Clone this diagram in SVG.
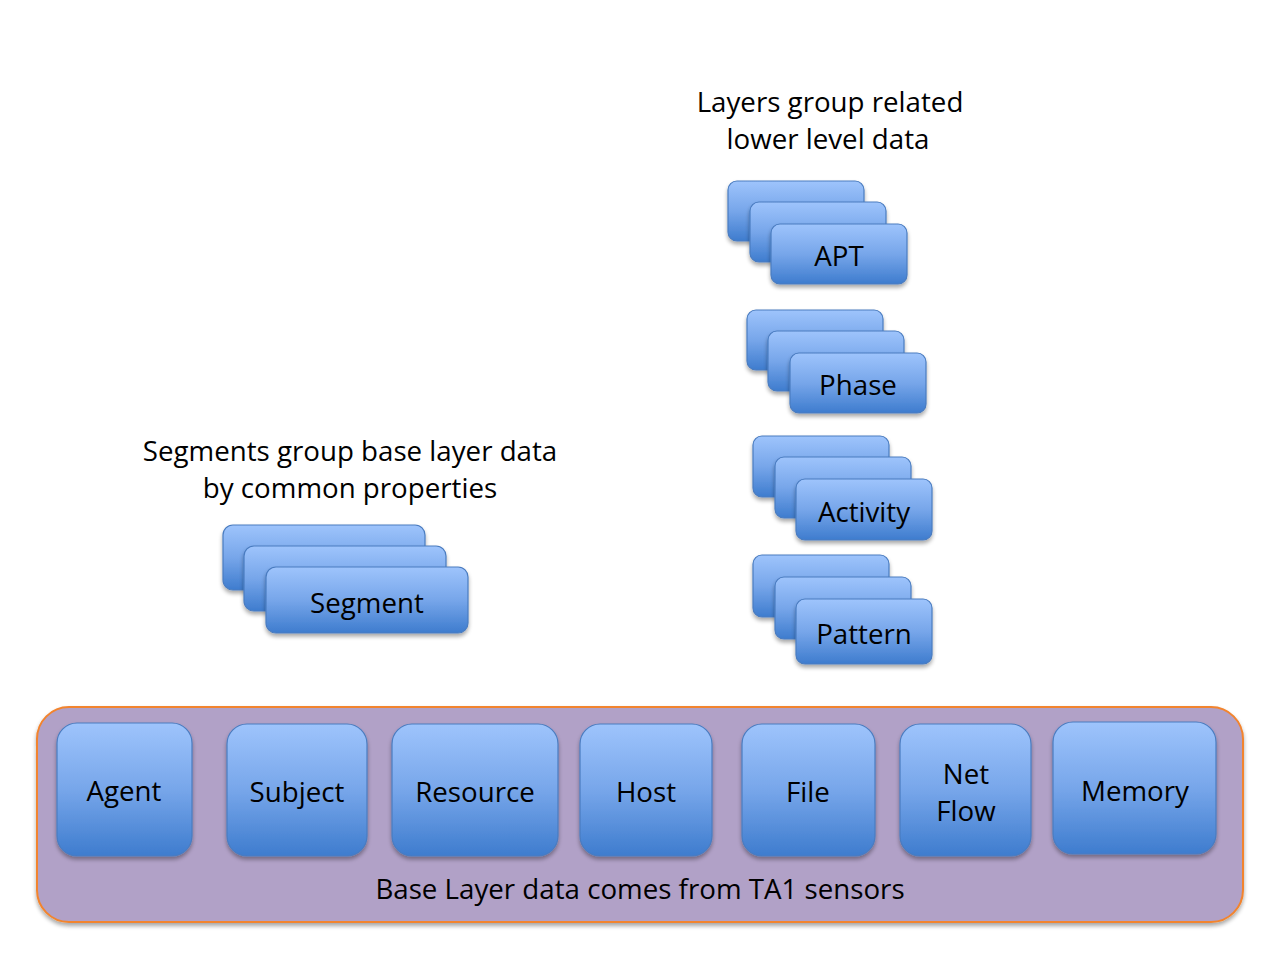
<svg xmlns="http://www.w3.org/2000/svg" width="1280" height="960" viewBox="0 0 1280 960">
<defs>
<linearGradient id="blue" x1="0" y1="0" x2="0" y2="1">
<stop offset="0" stop-color="#9ec4fc"/>
<stop offset="0.5" stop-color="#77a6ea"/>
<stop offset="1" stop-color="#3e7cce"/>
</linearGradient>
<filter id="sh" x="-10%" y="-10%" width="125%" height="130%">
<feGaussianBlur in="SourceAlpha" stdDeviation="2"/>
<feOffset dx="0" dy="3" result="b"/>
<feComponentTransfer><feFuncA type="linear" slope="0.35"/></feComponentTransfer>
<feMerge><feMergeNode/><feMergeNode in="SourceGraphic"/></feMerge>
</filter>
</defs>
<style>
.b{fill:url(#blue);stroke:#4a7cc0;stroke-width:1.2;filter:url(#sh)}
.t{font-family:"Open Sans","Liberation Sans",sans-serif;font-size:27.7px;fill:#000;text-anchor:middle}
.base{fill:#b1a1c7;stroke:#f2842e;stroke-width:2;filter:url(#sh)}
</style>
<rect width="1280" height="960" fill="#fff"/>
<g id="labels">
<text class="t" x="830" y="112">Layers group related</text>
<text class="t" x="828" y="149">lower level data</text>
<text class="t" x="350" y="461">Segments group base layer data</text>
<text class="t" x="350" y="498">by common properties</text>
</g>
<g id="base-layer">
<rect class="base" x="37" y="707" width="1206" height="215" rx="32"/>
<text class="t" x="640" y="899">Base Layer data comes from TA1 sensors</text>
</g>
<g id="apt">
<rect class="b" x="728" y="181" width="136" height="60" rx="9"/>
<rect class="b" x="750" y="202" width="136" height="60" rx="9"/>
<rect class="b" x="771" y="224" width="136" height="60" rx="9"/>
<text class="t" x="839" y="266">APT</text>
</g>
<g id="phase">
<rect class="b" x="747" y="310" width="136" height="60" rx="9"/>
<rect class="b" x="768" y="331" width="136" height="60" rx="9"/>
<rect class="b" x="790" y="353" width="136" height="60" rx="9"/>
<text class="t" x="858" y="395">Phase</text>
</g>
<g id="activity">
<rect class="b" x="753" y="436" width="136" height="61" rx="9"/>
<rect class="b" x="775" y="457" width="136" height="61" rx="9"/>
<rect class="b" x="796" y="479" width="136" height="61" rx="9"/>
<text class="t" x="864" y="522">Activity</text>
</g>
<g id="pattern">
<rect class="b" x="753" y="555" width="136" height="62" rx="9"/>
<rect class="b" x="775" y="577" width="136" height="62" rx="9"/>
<rect class="b" x="796" y="599" width="136" height="65" rx="9"/>
<text class="t" x="864" y="644">Pattern</text>
</g>
<g id="segment">
<rect class="b" x="223" y="525" width="202" height="65" rx="10"/>
<rect class="b" x="244" y="546" width="202" height="65" rx="10"/>
<rect class="b" x="266" y="567" width="202" height="66" rx="10"/>
<text class="t" x="367" y="613">Segment</text>
</g>
<g id="agent"><rect class="b" x="57" y="723" width="135" height="133" rx="20"/><text class="t" x="124" y="801">Agent</text></g>
<g id="subject"><rect class="b" x="227" y="724" width="140" height="132" rx="20"/><text class="t" x="297" y="802">Subject</text></g>
<g id="resource"><rect class="b" x="392" y="724" width="166" height="132" rx="20"/><text class="t" x="475" y="802">Resource</text></g>
<g id="host"><rect class="b" x="580" y="724" width="132" height="132" rx="20"/><text class="t" x="646" y="802">Host</text></g>
<g id="file"><rect class="b" x="742" y="724" width="133" height="132" rx="20"/><text class="t" x="808" y="802">File</text></g>
<g id="netflow"><rect class="b" x="900" y="724" width="131" height="132" rx="20"/><text class="t" x="966" y="784">Net</text><text class="t" x="966" y="821">Flow</text></g>
<g id="memory"><rect class="b" x="1053" y="722" width="163" height="132" rx="20"/><text class="t" x="1135" y="801">Memory</text></g>
<g id="connectors"/>
</svg>
